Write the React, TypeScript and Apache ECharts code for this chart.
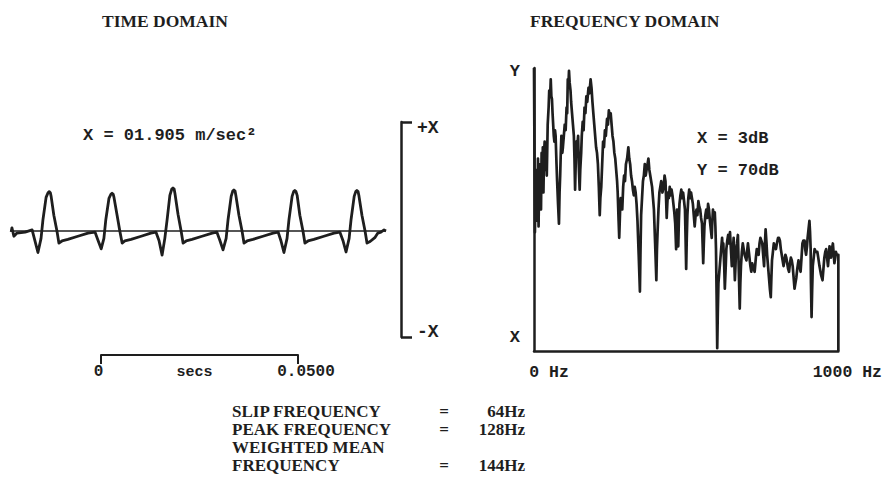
import React, { useEffect, useRef } from "react";
import * as echarts from "echarts";

// Time-domain acceleration trace: [time ms, fraction of full scale X]
const timeWave: number[][] = [
  [0.3, -0.01], [0.5, 0.03], [1.0, -0.05], [1.8, -0.02], [3.9, -0.01], [5.7, 0.01],
  [6.4, -0.09], [7.2, -0.205], [8.0, -0.07], [8.5, 0.11], [9.3, 0.32], [9.8, 0.365], [10.1, 0.375],
  [10.4, 0.365], [10.6, 0.33], [11.3, 0.15], [12.1, 0.0], [12.6, -0.115], [13.4, -0.095], [14.9, -0.08],
  [17.5, -0.05], [20.1, -0.02],
  [21.9, -0.01], [22.7, -0.09], [23.5, -0.17], [24.2, -0.07], [24.7, 0.11], [25.5, 0.31], [26.0, 0.35],
  [26.3, 0.36], [26.6, 0.35], [26.8, 0.32], [27.6, 0.15], [28.3, 0.0], [28.9, -0.115], [29.6, -0.095],
  [31.2, -0.08], [33.8, -0.05], [36.3, -0.02],
  [37.6, -0.01], [38.4, -0.09], [39.2, -0.23], [39.9, -0.07], [40.5, 0.11], [41.2, 0.34], [41.7, 0.4],
  [42.0, 0.41], [42.3, 0.4], [42.5, 0.36], [43.3, 0.16], [44.1, 0.0], [44.6, -0.115], [45.4, -0.095],
  [46.9, -0.08], [49.5, -0.05], [52.1, -0.02],
  [53.3, -0.01], [54.1, -0.09], [54.9, -0.18], [55.7, -0.07], [56.2, 0.11], [57.0, 0.33], [57.4, 0.38],
  [57.7, 0.39], [58.0, 0.38], [58.2, 0.34], [59.0, 0.15], [59.8, 0.0], [60.3, -0.115], [61.1, -0.095],
  [62.6, -0.08], [65.2, -0.05], [67.8, -0.02],
  [69.1, -0.01], [69.8, -0.09], [70.6, -0.205], [71.4, -0.07], [71.9, 0.11], [72.7, 0.33], [73.1, 0.375],
  [73.4, 0.385], [73.7, 0.375], [74.0, 0.34], [74.7, 0.15], [75.5, 0.0], [76.0, -0.115], [76.8, -0.095],
  [78.3, -0.08], [80.9, -0.05], [83.5, -0.02],
  [85.0, -0.01], [85.8, -0.09], [86.6, -0.2], [87.4, -0.07], [87.9, 0.11], [88.7, 0.33], [89.1, 0.375],
  [89.4, 0.385], [89.7, 0.375], [89.9, 0.34], [90.7, 0.15], [91.5, 0.0], [92.0, -0.115], [92.8, -0.1],
  [94.1, -0.06], [94.8, -0.02], [95.6, -0.01], [96.4, 0.01], [96.9, 0.0],
];

// Zero reference line of the time trace
const timeBaseline: number[][] = [[0.5, 0], [96.9, 0]];

// Frequency spectrum: [Hz, level (0 = X, 100 = Y)]
const spectrum: number[][] = [
  [0, 100], [3, 42], [5, 60], [7, 48], [9, 64], [11, 46], [13, 68], [15, 44], [17, 62], [19, 50],
  [21, 66], [23, 50], [25, 70], [27, 58], [29, 72], [31, 56], [33, 70], [35, 74], [38, 64], [40, 70],
  [42, 62], [45, 80], [48, 86], [50, 92], [53, 90], [55, 96], [57, 90], [59, 89], [61, 84], [63, 80],
  [65, 76], [67, 74], [69, 78], [71, 76], [74, 66], [76, 60], [79, 52], [82, 45], [84, 56], [86, 62],
  [88, 70], [90, 76], [93, 70], [95, 72], [98, 76], [101, 80], [104, 78], [107, 86], [109, 84], [111, 96],
  [113, 94], [115, 99], [117, 95], [120, 92], [122, 88], [125, 84], [128, 80], [131, 76], [133, 68], [135, 57],
  [137, 66], [139, 74], [142, 72], [145, 76], [147, 66], [150, 57], [152, 64], [155, 70], [157, 76], [160, 81],
  [163, 78], [166, 86], [169, 84], [172, 90], [175, 88], [179, 93], [182, 91], [186, 96], [189, 93], [192, 88],
  [195, 84], [198, 80], [201, 76], [204, 72], [207, 70], [210, 66], [213, 58], [216, 48], [218, 54], [221, 58],
  [224, 66], [227, 74], [230, 72], [233, 78], [236, 76], [240, 82], [243, 80], [246, 85], [249, 83], [252, 84],
  [255, 80], [258, 76], [261, 74], [264, 70], [267, 68], [270, 64], [273, 60], [275, 56], [278, 46], [280, 40],
  [283, 50], [285, 54], [288, 52], [290, 50], [293, 58], [296, 62], [299, 60], [302, 66], [306, 68], [310, 72],
  [313, 68], [316, 66], [319, 62], [322, 60], [325, 57], [328, 55], [331, 58], [334, 56], [337, 52], [340, 46],
  [344, 34], [348, 21], [350, 36], [352, 48], [355, 54], [358, 60], [361, 62], [364, 66], [367, 62], [370, 64],
  [373, 66], [376, 68], [379, 64], [382, 62], [385, 60], [388, 58], [391, 54], [394, 50], [398, 38], [402, 25],
  [404, 36], [406, 42], [409, 50], [412, 56], [415, 58], [418, 60], [422, 56], [426, 58], [429, 62], [432, 60],
  [434, 54], [436, 47], [438, 52], [440, 56], [443, 54], [446, 58], [449, 55], [452, 57], [455, 55], [458, 52],
  [461, 49], [464, 45], [467, 36], [470, 50], [472, 44], [474, 37], [476, 46], [478, 52], [481, 55], [484, 57],
  [487, 54], [490, 56], [493, 53], [496, 50], [498, 40], [500, 29], [502, 40], [504, 48], [507, 54], [510, 57],
  [513, 54], [516, 56], [519, 54], [522, 52], [525, 48], [528, 44], [531, 48], [534, 50], [537, 48], [540, 53],
  [543, 51], [546, 50], [549, 47], [552, 45], [554, 38], [556, 31], [558, 38], [560, 44], [563, 48], [566, 50],
  [569, 47], [572, 52], [575, 50], [578, 46], [581, 43], [584, 40], [586, 46], [588, 50], [591, 47], [594, 49],
  [596, 44], [598, 36], [600, 20], [602, 1], [604, 14], [606, 24], [609, 28], [612, 32], [615, 36], [618, 40],
  [620, 36], [622, 38], [625, 30], [627, 22], [630, 30], [632, 36], [635, 39], [638, 41], [641, 38], [644, 42],
  [647, 36], [650, 30], [653, 35], [656, 40], [658, 32], [660, 25], [662, 30], [664, 36], [667, 38], [670, 41],
  [673, 28], [676, 15], [678, 24], [680, 30], [683, 35], [686, 38], [689, 36], [692, 34], [695, 33], [698, 32],
  [701, 36], [703, 38], [706, 35], [708, 33], [711, 30], [714, 28], [717, 31], [719, 30], [722, 29], [725, 28],
  [729, 33], [732, 36], [735, 35], [738, 34], [741, 38], [744, 40], [747, 39], [750, 38], [753, 34], [756, 30],
  [758, 36], [761, 43], [764, 38], [766, 34], [769, 30], [772, 26], [775, 22], [778, 19], [780, 26], [782, 32],
  [785, 35], [788, 38], [791, 37], [795, 36], [798, 38], [802, 40], [805, 40], [808, 39], [811, 36], [814, 34],
  [817, 32], [820, 30], [823, 32], [826, 34], [829, 33], [832, 31], [835, 29], [838, 28], [841, 31], [844, 33],
  [847, 32], [850, 30], [853, 26], [856, 22], [859, 24], [862, 26], [865, 29], [869, 32], [872, 30], [876, 28],
  [879, 33], [882, 38], [885, 39], [889, 39], [891, 36], [894, 34], [897, 37], [899, 40], [902, 43], [905, 46],
  [907, 42], [909, 36], [910, 24], [912, 12], [914, 22], [916, 30], [919, 33], [922, 36], [926, 35], [931, 35],
  [934, 33], [938, 30], [943, 27], [948, 25], [951, 29], [954, 33], [957, 35], [960, 36], [963, 33], [966, 30],
  [969, 34], [971, 37], [974, 35], [976, 33], [979, 36], [982, 38], [985, 34], [987, 31], [990, 33], [992, 35],
  [995, 34], [997, 34], [1000, 34], [1000, 0],
];

// Tick labels
const freqTickLabels = ["0 Hz", "1000 Hz"];
const levelTickLabels = ["X", "Y"];
const scaleTickLabels = ["0", "0.0500"];
const bracketTickLabels = ["-X", "+X"];

// Annotation texts
const titles = ["TIME DOMAIN", "FREQUENCY DOMAIN"];
const amplitudeText = "X = 01.905 m/sec\u00B2";
const freqScaleTexts = ["X = 3dB", "Y = 70dB"];
const resultNames = ["SLIP FREQUENCY", "PEAK FREQUENCY", "WEIGHTED MEAN", "FREQUENCY"];
const resultValues = ["64Hz", "128Hz", "", "144Hz"];

const INK = "#1e1e1e";
const MONO = '"Liberation Mono", "DejaVu Sans Mono", monospace';
const SERIF = '"Liberation Serif", "DejaVu Serif", serif';

export default function App() {
  const ref = useRef<HTMLDivElement>(null);

  useEffect(() => {
    if (!ref.current) return;
    const chart = echarts.init(ref.current, undefined, { renderer: "svg" });

    const monoRich = (size: number, pad: number[]) => ({
      fontFamily: MONO,
      fontWeight: "bold",
      fontSize: size,
      color: INK,
      padding: pad,
    });

    const text = (t: string, x: number, y: number, font: string, align = "left", lh?: number) => ({
      type: "text",
      x,
      y,
      silent: true,
      style: {
        text: t,
        font,
        fill: INK,
        align,
        verticalAlign: "middle",
        textAlign: align,
        textVerticalAlign: "middle",
        ...(lh ? { lineHeight: lh } : {}),
      },
    });

    const rowY = [411, 429, 447, 465];
    const rowFont = `bold 17px ${SERIF}`;
    const graphics: any[] = [
      text(titles[0], 102, 21, `bold 17.5px ${SERIF}`),
      text(titles[1], 530, 21, `bold 17.5px ${SERIF}`),
      text(amplitudeText, 83, 135, `bold 17px ${MONO}`),
      text(freqScaleTexts[0], 697, 138, `bold 17px ${MONO}`),
      text(freqScaleTexts[1], 697, 170, `bold 17px ${MONO}`),
    ];
    resultNames.forEach((n, i) => {
      graphics.push(text(n, 232, rowY[i], rowFont, "left", 15));
      if (resultValues[i]) {
        graphics.push(text("=", 444, rowY[i], rowFont, "center", 15));
        graphics.push(text(resultValues[i], 525, rowY[i], rowFont, "right", 15));
      }
    });

    const option: any = {
      animation: false,
      backgroundColor: "#ffffff",
      grid: [
        { left: 10, top: 126, width: 376, height: 210 },
        { left: 401, top: 122, width: 20, height: 215 },
        { left: 101, top: 300, width: 197, height: 55 },
        { left: 534, top: 68, width: 307, height: 283 },
      ],
      xAxis: [
        { gridIndex: 0, type: "value", min: 0, max: 96.9, show: false },
        { gridIndex: 1, type: "value", min: 0, max: 1, show: false },
        {
          gridIndex: 2,
          type: "value",
          min: 0,
          max: 0.05,
          interval: 0.05,
          axisLine: { show: true, onZero: false, lineStyle: { color: INK, width: 2 } },
          axisTick: { show: true, length: 9, lineStyle: { color: INK, width: 2 } },
          splitLine: { show: false },
          axisLabel: {
            margin: 9,
            formatter: (v: number) =>
              v === 0 ? `{a|${scaleTickLabels[0]}}` : `{b|${scaleTickLabels[1]}}`,
            rich: { a: monoRich(16, [0, 5, 0, 0]), b: monoRich(16, [0, 0, 0, 16]) },
          },
          name: "secs",
          nameLocation: "middle",
          nameGap: 10,
          nameMoveOverlap: false,
          nameTextStyle: { fontFamily: MONO, fontWeight: "bold", fontSize: 15, color: INK, padding: [0, 10, 0, 0] },
        },
        {
          gridIndex: 3,
          type: "value",
          min: 0,
          max: 1000,
          interval: 1000,
          axisLine: { show: true, onZero: false, lineStyle: { color: INK, width: 2.5 } },
          axisTick: { show: false },
          splitLine: { show: false },
          axisLabel: {
            margin: 13,
            formatter: (v: number) =>
              v === 0 ? `{a|${freqTickLabels[0]}}` : `{b|${freqTickLabels[1]}}`,
            rich: { a: monoRich(16.5, [0, 0, 0, 30]), b: monoRich(16.5, [0, 0, 0, 18]) },
          },
        },
      ],
      yAxis: [
        { gridIndex: 0, type: "value", min: -1, max: 1, show: false },
        {
          gridIndex: 1,
          type: "value",
          min: 0,
          max: 2,
          interval: 2,
          position: "left",
          axisLine: { show: true, onZero: false, lineStyle: { color: INK, width: 2.5 } },
          axisTick: { show: true, inside: true, length: 11, lineStyle: { color: INK, width: 2.5 } },
          splitLine: { show: false },
          axisLabel: {
            inside: true,
            margin: 16,
            formatter: (v: number) =>
              v === 2 ? `{p|${bracketTickLabels[1]}}` : `{m|${bracketTickLabels[0]}}`,
            rich: { p: monoRich(18, [12, 0, 0, 0]), m: monoRich(18, [0, 0, 10, 0]) },
          },
        },
        { gridIndex: 2, type: "value", min: 0, max: 1, show: false },
        {
          gridIndex: 3,
          type: "value",
          min: 0,
          max: 100,
          interval: 100,
          axisLine: { show: true, onZero: false, lineStyle: { color: INK, width: 2.5 } },
          axisTick: { show: false },
          splitLine: { show: false },
          axisLabel: {
            margin: 14,
            formatter: (v: number) =>
              v === 100 ? `{y|${levelTickLabels[1]}}` : `{x|${levelTickLabels[0]}}`,
            rich: { y: monoRich(17, [7, 0, 0, 0]), x: monoRich(17, [0, 0, 27, 0]) },
          },
        },
      ],
      series: [
        {
          type: "line",
          xAxisIndex: 0,
          yAxisIndex: 0,
          data: timeBaseline,
          showSymbol: false,
          silent: true,
          lineStyle: { color: INK, width: 1.6 },
          z: 2,
        },
        {
          type: "line",
          xAxisIndex: 0,
          yAxisIndex: 0,
          data: timeWave,
          showSymbol: false,
          silent: true,
          lineStyle: { color: INK, width: 2.8, join: "round" },
          z: 3,
        },
        {
          type: "line",
          xAxisIndex: 3,
          yAxisIndex: 3,
          data: spectrum,
          showSymbol: false,
          silent: true,
          lineStyle: { color: INK, width: 2.7, join: "round" },
          z: 3,
        },
      ],
      graphic: graphics,
    };

    chart.setOption(option);
    return () => chart.dispose();
  }, []);

  return (
    <div
      ref={ref}
      style={{ position: "absolute", left: 0, top: 0, width: 885, height: 479, background: "#fff" }}
    />
  );
}
